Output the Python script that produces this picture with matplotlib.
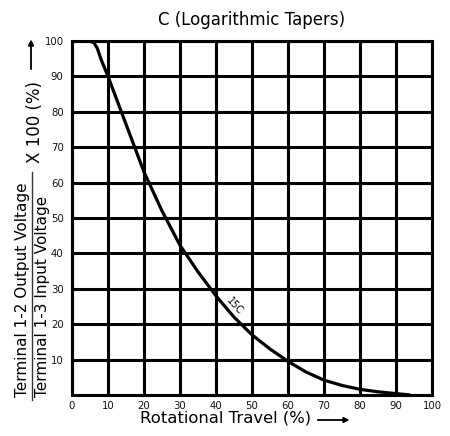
import matplotlib
matplotlib.use("Agg")
import matplotlib.pyplot as plt
from matplotlib.lines import Line2D

# curve (rotational travel %, output ratio %)
travel = [4.5, 6, 7, 8, 10, 15, 20, 25, 30, 35, 40, 45, 50, 55, 60, 65, 70, 75, 80, 85, 90, 94]
ratio = [100, 99.6, 98, 95, 90, 76.5, 63, 52, 42.3, 34.8, 28, 22, 17, 13, 9.5, 6.5, 4.2, 2.7, 1.6, 0.9, 0.4, 0]

xticks = list(range(0, 101, 10))
yticks = list(range(0, 101, 10))
ylabels = [""] + [str(v) for v in yticks[1:]]

W, H = 450, 436
fig = plt.figure(figsize=(W / 100, H / 100), dpi=100)
ax = fig.add_axes([72 / W, 1 - 395 / H, 360 / W, 354 / H])

ax.plot(travel, ratio, color="black", lw=2.3, solid_capstyle="butt", solid_joinstyle="round")
ax.set_xlim(0, 100)
ax.set_ylim(0, 100)
ax.set_xticks(xticks)
ax.set_yticks(yticks)
ax.set_yticklabels(ylabels)
ax.grid(True, color="black", lw=2.2)
ax.set_axisbelow(True)
for s in ax.spines.values():
    s.set_linewidth(2.2)
ax.tick_params(length=0, labelsize=7.3, colors="#111111")
ax.tick_params(axis="x", pad=4)
ax.tick_params(axis="y", pad=6)

ax.text(45.2, 25.2, "15C", fontsize=7, rotation=-48, ha="center", va="center")

fig.text(252 / W, 1 - 20 / H, "C (Logarithmic Tapers)", fontsize=12, ha="center", va="center")

# x label with arrow
fig.text(226 / W, 1 - 418 / H, "Rotational Travel (%)", fontsize=11.8, ha="center", va="center")
fig.add_artist(plt.annotate("", xy=(352 / W, 1 - 420 / H), xytext=(315 / W, 1 - 420 / H),
                            xycoords="figure fraction", textcoords="figure fraction",
                            arrowprops=dict(arrowstyle="-|>", color="black", lw=1, mutation_scale=8)))

# y label as fraction
fig.text(23 / W, 1 - 397 / H, "Terminal 1-2 Output Voltage", fontsize=11, rotation=90, ha="center", va="bottom")
fig.text(42.5 / W, 1 - 397 / H, "Terminal 1-3 Input Voltage", fontsize=11, rotation=90, ha="center", va="bottom")
fig.add_artist(Line2D([32 / W, 32 / W], [1 - 400 / H, 1 - 172 / H], transform=fig.transFigure, color="#333333", lw=1))
fig.text(35 / W, 1 - 163 / H, "X 100 (%)", fontsize=12, rotation=90, ha="center", va="bottom")
fig.add_artist(plt.annotate("", xy=(31 / W, 1 - 37 / H), xytext=(31 / W, 1 - 72 / H),
                            xycoords="figure fraction", textcoords="figure fraction",
                            arrowprops=dict(arrowstyle="-|>", color="black", lw=1, mutation_scale=8)))

fig.savefig("out.png", dpi=100)
